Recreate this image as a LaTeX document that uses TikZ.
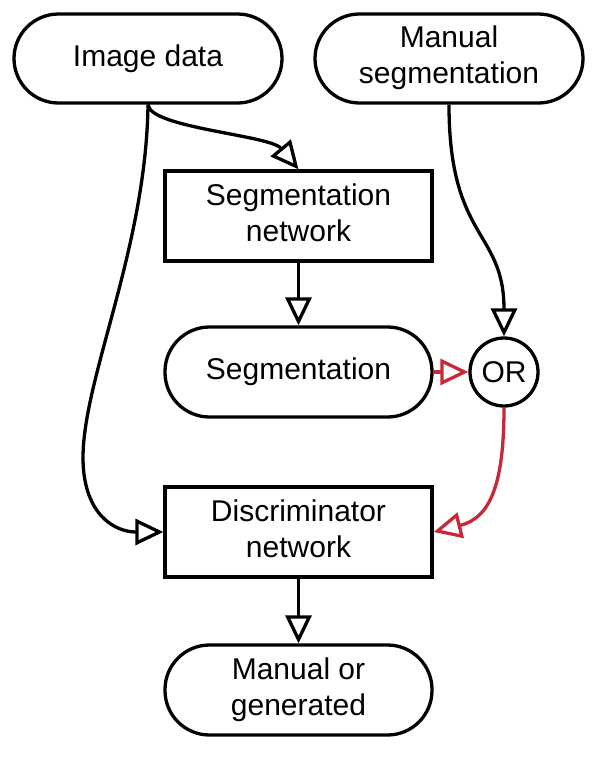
\documentclass[tikz,border=0pt]{standalone}
\usepackage{fontspec}
\setmainfont{Liberation Sans}
\usetikzlibrary{arrows.meta}
\definecolor{redline}{RGB}{200,40,55}
\newcommand\twolines[2]{\begin{tabular}{@{}c@{}}#1\\#2\end{tabular}}
\tikzset{
  base/.style={draw, line width=3.3pt, font=\fontsize{30}{36}\selectfont, inner sep=0pt},
  pill/.style={base, minimum width=268pt, minimum height=89pt, rounded corners=44.5pt},
  boxnode/.style={base, minimum width=267pt, minimum height=90pt},
  ornode/.style={base, circle, minimum size=68pt},
  conn/.style={line width=3.3pt, -{Triangle[open, length=28pt, width=26pt]}},
  redconn/.style={conn, draw=redline},
}
\begin{document}
\begin{tikzpicture}[x=1pt,y=-1pt]
\useasboundingbox (0,0) rectangle (598,774);
\node[pill] (img) at (148,58.5) {Image data};
\node[pill] (man) at (449,58.5) {\twolines{Manual}{segmentation}};
\node[boxnode] (segnet) at (298.5,216) {\twolines{Segmentation}{network}};
\node[pill, minimum width=267pt, minimum height=90pt] (seg) at (298.5,372) {Segmentation};
\node[ornode] (or) at (504,372) {OR};
\node[boxnode] (dis) at (298.5,532) {\twolines{Discriminator}{network}};
\node[pill, minimum width=267pt, minimum height=90pt] (out) at (298.5,690) {\twolines{Manual or}{generated}};

\draw[conn] (img.south) .. controls (150,128) and (270,135) .. (segnet.north);
\draw[conn] (img.south) .. controls (146,250) and (82,380) .. (83,460) .. controls (84,515) and (115,532) .. (dis.west);
\draw[conn] (man.south) .. controls (449,240) and (504,230) .. (or.north);
\draw[conn] (segnet.south) -- (seg.north);
\draw[redconn] (seg.east) -- (or.west);
\draw[redconn] (or.south) .. controls (504,485) and (490,518) .. (dis.east);
\draw[conn] (dis.south) -- (out.north);
\end{tikzpicture}
\end{document}
